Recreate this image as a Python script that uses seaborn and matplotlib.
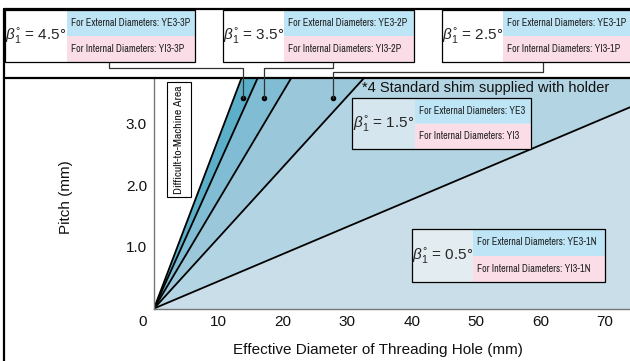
import numpy as np
import pandas as pd
import seaborn as sns
import matplotlib.pyplot as plt
from matplotlib.patches import Rectangle
from matplotlib.lines import Line2D

# Boundary lines of the lead-angle zones (pitch mm per mm of diameter), steepest first
boundary_slopes = [0.276, 0.233, 0.176, 0.115, 0.0443]
region_colors = ["#5bafc9", "#80bcd4", "#9ac8da", "#b3d4e2", "#c9dee8"]
region_angles = ["4.5", "3.5", "2.5", "1.5", "0.5"]
external_codes = ["YE3-3P", "YE3-2P", "YE3-1P", "YE3", "YE3-1N"]
internal_codes = ["YI3-3P", "YI3-2P", "YI3-1P", "YI3", "YI3-1N"]

# pointer dots for the three steepest zones
marker_diam = [13.8, 17.1, 27.8]
marker_pitch = [3.42, 3.42, 3.42]

x_ticks = [10, 20, 30, 40, 50, 60, 70]
y_ticks = [1.0, 2.0, 3.0]
y_minor = [0.5, 1.5, 2.5, 3.5]
x_max = 73.86
y_max = 3.756

NARROW = ["Archivo Narrow", "DejaVu Sans"]
W, H = 630, 361


def fx(x):
    return x / W


def fy(y):
    return 1 - y / H


def rect(fig, x0, y0, x1, y1, fc="none", ec="none", lw=0, z=3):
    fig.add_artist(Rectangle((fx(x0), fy(y1)), (x1 - x0) / W, (y1 - y0) / H,
                             transform=fig.transFigure, fc=fc, ec=ec, lw=lw, zorder=z))


def label_box(fig, x0, xs, x1, y0, y1, angle, ext, inn, bg):
    ym = (y0 + y1) / 2
    rect(fig, x0, y0, x1, y1, fc=bg)
    rect(fig, xs, y0, x1, ym, fc="#bde5f6")
    rect(fig, xs, ym, x1, y1, fc="#fbdde8")
    rect(fig, x0, y0, x1, y1, ec="black", lw=0.9, z=4)
    fig.text(fx((x0 + xs) / 2), fy(ym), r"$\beta^{°}_{1}$ = " + angle + "°",
             ha="center", va="center", fontsize=11, zorder=5)
    fig.text(fx(xs + 4), fy((y0 + ym) / 2), "For External Diameters: " + ext,
             ha="left", va="center", fontsize=7.3, family=NARROW, color="#222222", zorder=5)
    fig.text(fx(xs + 4), fy((ym + y1) / 2), "For Internal Diameters: " + inn,
             ha="left", va="center", fontsize=7.3, family=NARROW, color="#222222", zorder=5)


def main():
    sns.set_theme(style="white")
    plt.rcParams["font.family"] = ["Liberation Sans", "DejaVu Sans"]
    plt.rcParams["mathtext.fontset"] = "custom"
    plt.rcParams["mathtext.rm"] = "Liberation Sans"
    plt.rcParams["mathtext.it"] = "Liberation Sans:italic"

    fig = plt.figure(figsize=(6.3, 3.61), dpi=100)
    ax = fig.add_axes([154 / W, fy(308.5), 476 / W, 231 / H])

    # zones
    diam = np.array([0.0, x_max])
    lows = boundary_slopes[1:] + [0.0]
    for hi, lo, col in zip(boundary_slopes, lows, region_colors):
        ax.fill_between(diam, lo * diam, hi * diam, color=col, lw=0, zorder=1)

    # boundary lines
    lines = pd.DataFrame(
        [(i, d, s * d) for i, s in enumerate(boundary_slopes) for d in diam],
        columns=["line", "diameter", "pitch"])
    sns.lineplot(data=lines, x="diameter", y="pitch", units="line", estimator=None,
                 color="black", lw=1.3, ax=ax, zorder=2)
    sns.scatterplot(x=marker_diam, y=marker_pitch, color="black", s=16,
                    linewidth=0, ax=ax, zorder=4)

    ax.set_xlim(0, x_max)
    ax.set_ylim(0, y_max)
    ax.set_xticks(x_ticks, labels=[str(v) for v in x_ticks])
    ax.set_yticks(y_ticks, labels=[f"{v:.1f}" for v in y_ticks])
    ax.set_yticks(y_minor, minor=True)
    ax.tick_params(which="both", direction="in", length=6, width=0.8,
                   color="#555555", labelsize=11, pad=5, labelcolor="#111111")
    for side in ["top", "right"]:
        ax.spines[side].set_visible(False)
    for side in ["left", "bottom"]:
        ax.spines[side].set_color("#777777")
        ax.spines[side].set_linewidth(1.0)
    ax.set_xlabel("Effective Diameter of Threading Hole (mm)", fontsize=11, color="#111111")
    ax.set_ylabel("Pitch (mm)", fontsize=11, color="#111111")
    ax.xaxis.set_label_coords(0.47, -0.15)
    ax.yaxis.set_label_coords(-0.17, 0.48)
    ax.text(-0.023, -0.058, "0", transform=ax.transAxes, ha="center", va="center",
            fontsize=11, color="#111111")

    # difficult-to-machine note in its own box
    ax.add_patch(Rectangle((2.02, 1.813), 3.72, 1.87, fc="white", ec="black", lw=0.8, zorder=3))
    ax.text(3.88, 2.75, "Difficult-to-Machine Area", rotation=90, ha="center", va="center",
            fontsize=8.5, family=NARROW, color="#111111", zorder=4)
    ax.text(32.3, 3.585, "*4 Standard shim supplied with holder", ha="left", va="center",
            fontsize=10.5, color="#111111")

    # outer frame
    for xs, ys in [([4, 4], [9, 361]), ([4, 640], [9, 9]), ([4, 640], [77.5, 77.5])]:
        fig.add_artist(Line2D([fx(v) for v in xs], [fy(v) for v in ys], color="black",
                              lw=1.6, transform=fig.transFigure, zorder=3))

    # label boxes: top row + inside the plot
    label_box(fig, 5, 67, 195, 10, 62, region_angles[0], external_codes[0], internal_codes[0], "white")
    label_box(fig, 223, 284, 414, 10, 62, region_angles[1], external_codes[1], internal_codes[1], "white")
    label_box(fig, 442, 503, 640, 10, 62, region_angles[2], external_codes[2], internal_codes[2], "white")
    label_box(fig, 352, 415, 531, 98, 149, region_angles[3], external_codes[3], internal_codes[3], "#d6e6ee")
    label_box(fig, 412, 473, 605, 229, 282, region_angles[4], external_codes[4], internal_codes[4], "#e3ecf1")

    # connectors from the top boxes down to the dots
    to_fig = fig.transFigure.inverted()
    for bx, ey, d, p in zip([109, 333, 543], [68, 68, 72], marker_diam, marker_pitch):
        dx, dy = to_fig.transform(ax.transData.transform((d, p)))
        fig.add_artist(Line2D([fx(bx), fx(bx), dx, dx], [fy(62), fy(ey), fy(ey), dy],
                              color="#333333", lw=0.9, transform=fig.transFigure, zorder=3))

    fig.savefig("out.png", dpi=100)


if __name__ == "__main__":
    main()
